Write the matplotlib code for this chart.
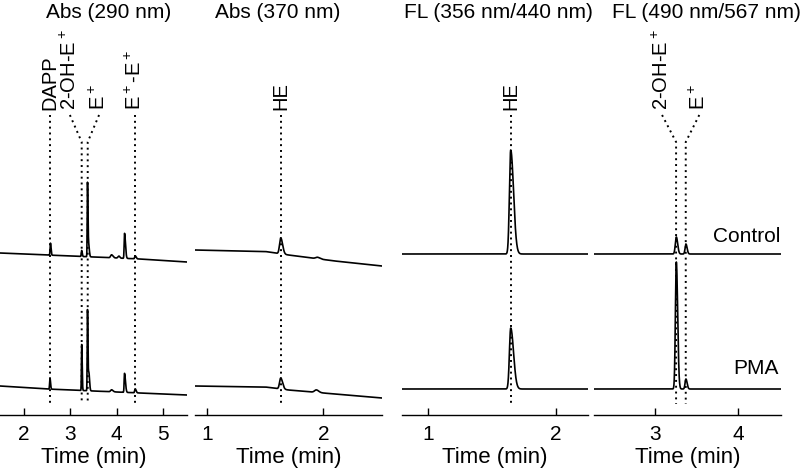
import numpy as np
import matplotlib
matplotlib.use('Agg')
import matplotlib.pyplot as plt

plt.rcParams['font.family'] = ['Liberation Sans', 'DejaVu Sans']
plt.rcParams['mathtext.fontset'] = 'custom'
plt.rcParams['mathtext.rm'] = 'Liberation Sans'
plt.rcParams['mathtext.default'] = 'regular'

# panel settings
titles = ['Abs (290 nm)', 'Abs (370 nm)', 'FL (356 nm/440 nm)', 'FL (490 nm/567 nm)']
x_limits = [(1.48, 5.52), (0.894, 2.506), (0.794, 2.25), (2.268, 4.51)]
x_ticks = [[2, 3, 4, 5], [1, 2], [1, 2], [3, 4]]

# baseline levels (time knots, control level, PMA level), arbitrary units
base_t = [[1.48, 2.5, 3.5, 4.5, 5.52],
          [0.894, 1.5, 1.7, 2.1, 2.506],
          [0.794, 2.25],
          [2.268, 4.51]]
base_control = [[162, 160, 158, 156, 153],
                [165, 163.5, 160, 154, 149],
                [161, 161],
                [161, 161]]
base_pma = [[29, 26, 24, 22, 20],
            [29, 28, 25, 21, 17],
            [26, 26],
            [26, 26]]

# peaks: retention time (min), height, left width, right width
peaks_control = [
    [(2.57, 12, 0.008, 0.012), (3.245, 6, 0.008, 0.012), (3.37, 74, 0.006, 0.010),
     (3.395, 12, 0.010, 0.015), (3.89, 3, 0.02, 0.03), (4.05, 2, 0.02, 0.02),
     (4.17, 25, 0.008, 0.02), (4.40, 3, 0.01, 0.02)],
    [(1.633, 16, 0.010, 0.016), (1.95, 1.5, 0.015, 0.02)],
    [(1.645, 104, 0.010, 0.022)],
    [(3.255, 17, 0.012, 0.016), (3.37, 10, 0.010, 0.014)],
]
peaks_pma = [
    [(2.56, 11, 0.008, 0.012), (3.245, 46, 0.006, 0.010), (3.37, 81, 0.006, 0.010),
     (3.40, 18, 0.010, 0.015), (3.89, 2, 0.02, 0.03), (4.17, 19, 0.008, 0.02),
     (4.40, 4, 0.01, 0.02)],
    [(1.633, 11, 0.010, 0.016), (1.94, 2.5, 0.015, 0.02)],
    [(1.645, 61, 0.010, 0.022)],
    [(3.255, 127, 0.011, 0.016), (3.37, 10, 0.010, 0.014)],
]

# peak labels: text, label time, line time
peak_labels = [
    [('DAPP', 2.56, 2.56), ('2-OH-E$^+$', 2.99, 3.245), ('E$^+$', 3.62, 3.375),
     ('E$^+$-E$^+$', 4.39, 4.39)],
    [('HE', 1.633, 1.633)],
    [('HE', 1.645, 1.645)],
    [('2-OH-E$^+$', 3.084, 3.252), ('E$^+$', 3.53, 3.368)],
]


def trace(t, knots, levels, peaks):
    y = np.interp(t, knots, levels)
    for t0, h, wl, wr in peaks:
        w = np.where(t < t0, wl, wr)
        y = y + h * np.exp(-0.5 * ((t - t0) / w) ** 2)
    return y


fig = plt.figure(figsize=(8, 4.7), dpi=100)
px = [(0, 187), (195, 382), (402, 588), (594, 781)]
title_x = [109, 278, 498, 706]

for i in range(4):
    left, right = px[i]
    ax = fig.add_axes([left / 800, 55 / 470, (right - left) / 800, 385 / 470])
    t = np.linspace(x_limits[i][0], x_limits[i][1], 4000)
    ax.plot(t, trace(t, base_t[i], base_control[i], peaks_control[i]), color='black', lw=1.2)
    ax.plot(t, trace(t, base_t[i], base_pma[i], peaks_pma[i]), color='black', lw=1.2)

    for name, tl, tline in peak_labels[i]:
        ax.plot([tl, tline, tline], [300, 273, 11], color='black', lw=1.4,
                linestyle=(0, (1, 2)))
        ax.text(tl, 305, name, rotation=90, ha='center', va='bottom', fontsize=14.5)

    ax.set_xlim(x_limits[i])
    ax.set_ylim(0, 385)
    ax.set_xticks(x_ticks[i])
    ax.set_yticks([])
    for s in ['top', 'right', 'left']:
        ax.spines[s].set_visible(False)
    ax.spines['bottom'].set_linewidth(1.0)
    ax.tick_params(axis='x', direction='in', length=5, width=1.0, labelsize=15, pad=7)
    ax.set_xlabel('Time (min)', fontsize=16, labelpad=2)
    ax.patch.set_visible(False)
    fig.text(title_x[i] / 800, 1 - 13 / 470, titles[i], ha='center', va='center', fontsize=15)

    if i == 3:
        ax.text(4.50, 178, 'Control', ha='right', va='center', fontsize=15)
        ax.text(4.48, 46, 'PMA', ha='right', va='center', fontsize=15)

fig.savefig('out.png', dpi=100)
